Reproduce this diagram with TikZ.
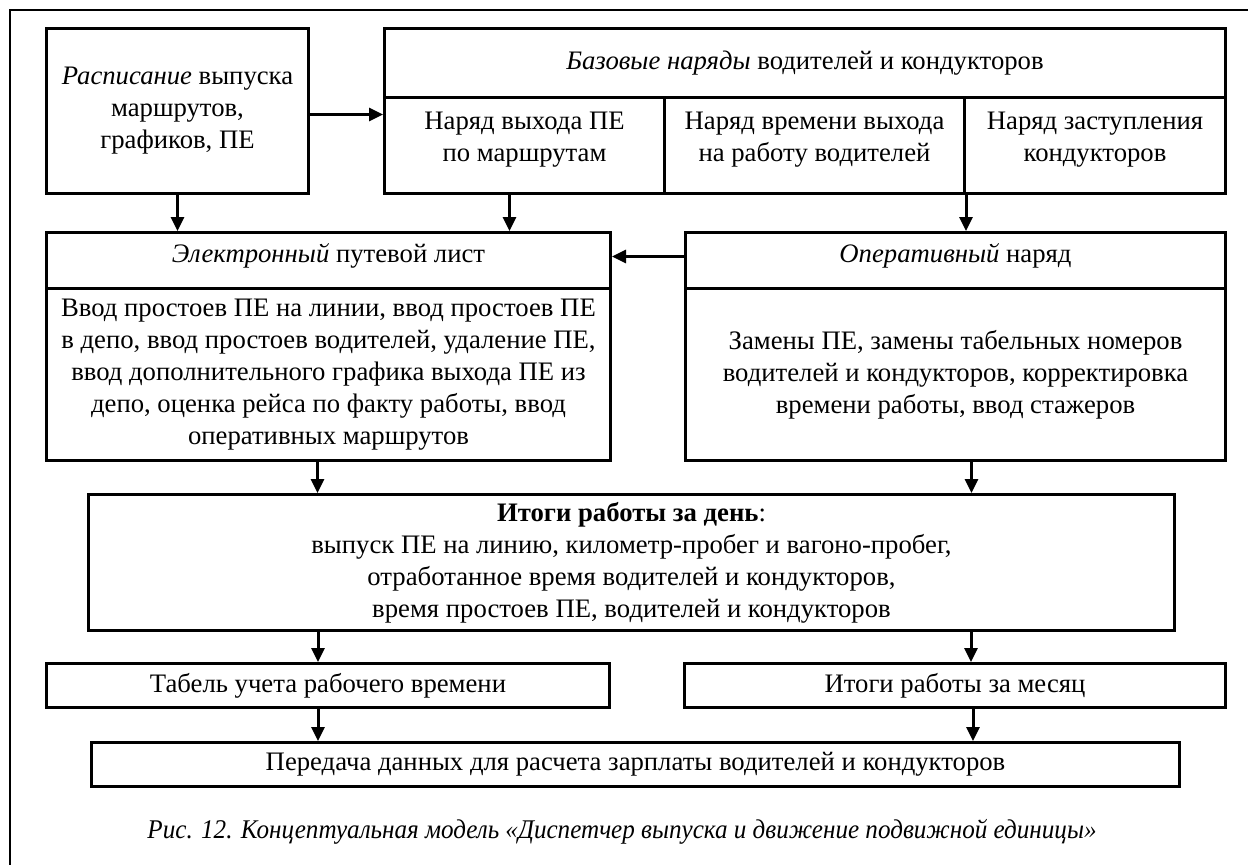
\documentclass[tikz,border=0pt]{standalone}
\usepackage{fontspec}
\setmainfont{Liberation Serif}
\usetikzlibrary{arrows.meta}

\begin{document}
\begin{tikzpicture}[x=1pt,y=-1pt,
  box/.style={draw, line width=3pt, inner sep=0pt, anchor=north west,
    align=center, font=\fontsize{26.7}{32}\selectfont},
  txt/.style={inner sep=0pt, align=center, font=\fontsize{26.7}{32.5}\selectfont},
  arr/.style={line width=3pt, -{Triangle[length=14pt,width=13pt]}},
  frame/.style={line width=2pt}
]
\useasboundingbox (0,0) rectangle (1248,865);

% outer frame, running off the right and bottom edges
\draw[frame] (10,900) -- (10,10) -- (1300,10);

% top row
\node[box, minimum width=262, minimum height=165] (A) at (45,27)
  {\textit{Расписание} выпуска\\маршрутов,\\графиков, ПЕ};
\node[box, minimum width=841, minimum height=69] (Bh) at (383,27)
  {\textit{Базовые наряды} водителей и кондукторов};
\node[box, minimum width=280, minimum height=96] (B1) at (383,96) {};
\node[box, minimum width=300, minimum height=96] (B2) at (663,96) {};
\node[box, minimum width=261, minimum height=96] (B3) at (963,96) {};
\node[txt] (B1t) at ([yshift=6pt]B1.center) {Наряд выхода ПЕ\\по маршрутам};
\node[txt] (B2t) at ([yshift=6pt]B2.center) {Наряд времени выхода\\на работу водителей};
\node[txt] (B3t) at ([yshift=6pt]B3.center) {Наряд заступления\\кондукторов};

% middle row
\node[box, minimum width=564, minimum height=56] (Ch) at (45,231) {};
\node[txt] (Cht) at ([yshift=5pt]Ch.center) {\textit{Электронный} путевой лист};
\node[box, minimum width=564, minimum height=172] (Cb) at (45,287)
  {\fontsize{26.7}{30.5}\selectfont
   Ввод простоев ПЕ на линии, ввод простоев ПЕ\\
   в депо, ввод простоев водителей, удаление ПЕ,\\
   ввод дополнительного графика выхода ПЕ из\\
   депо, оценка рейса по факту работы, ввод\\
   оперативных маршрутов};
\node[box, minimum width=540, minimum height=56] (Dh) at (684,231) {};
\node[txt] (Dht) at ([yshift=5pt]Dh.center) {\textit{Оперативный} наряд};
\node[box, minimum width=540, minimum height=172] (Db) at (684,287)
  {\fontsize{26.7}{32}\selectfont
   Замены ПЕ, замены табельных номеров\\
   водителей и кондукторов, корректировка\\
   времени работы, ввод стажеров};

% daily totals
\node[box, minimum width=1086, minimum height=136] (E) at (87,493)
  {\fontsize{26.7}{30}\selectfont
   \textbf{Итоги работы за день}:\\
   выпуск ПЕ на линию, километр-пробег и вагоно-пробег,\\
   отработанное время водителей и кондукторов,\\
   время простоев ПЕ, водителей и кондукторов};

% bottom rows
\node[box, minimum width=563, minimum height=44] (F) at (45,662)
  {Табель учета рабочего времени};
\node[box, minimum width=541, minimum height=44] (G) at (683,662)
  {Итоги работы за месяц};
\node[box, minimum width=1088, minimum height=44] (H) at (90,741)
  {Передача данных для расчета зарплаты водителей и кондукторов};

% caption
\node[inner sep=0pt] (cap) at (622,832)
  {\scalebox{0.93}[1]{\fontsize{27}{32}\itshape
   Рис. 12. Концептуальная модель «Диспетчер выпуска и движение подвижной единицы»}};

% connectors
\draw[arr] ([yshift=-3.5pt]A.east) -- ([yshift=-3.5pt]A.east -| B1.west);
\draw[arr] (A.south) -- (A.south |- Ch.north);
\draw[arr] ([xshift=-15pt]B1.south) -- ([xshift=-15pt]B1.south |- Ch.north);
\draw[arr] (B2.south east) -- (B2.south east |- Dh.north);
\draw[arr] ([yshift=4pt]Dh.west) -- ([yshift=4pt]Dh.west -| Ch.east);
\draw[arr] ([xshift=-11pt]Cb.south) -- ([xshift=-11pt]Cb.south |- E.north);
\draw[arr] ([xshift=16pt]Db.south) -- ([xshift=16pt]Db.south |- E.north);
\draw[arr] ([xshift=-10pt]F.north |- E.south) -- ([xshift=-10pt]F.north);
\draw[arr] ([xshift=16pt]G.north |- E.south) -- ([xshift=16pt]G.north);
\draw[arr] ([xshift=-10pt]F.south) -- ([xshift=-10pt]F.south |- H.north);
\draw[arr] ([xshift=18pt]G.south) -- ([xshift=18pt]G.south |- H.north);
\end{tikzpicture}
\end{document}
